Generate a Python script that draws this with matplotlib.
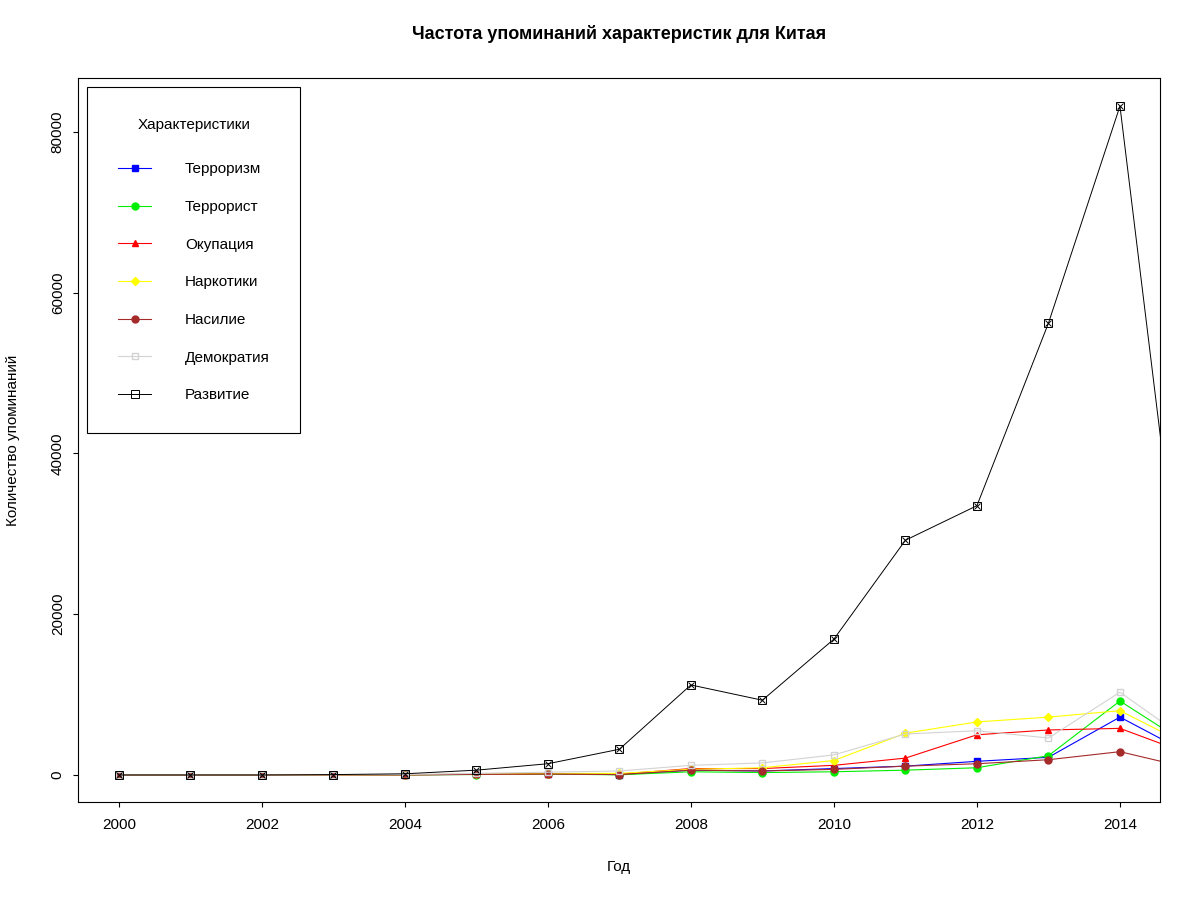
import matplotlib
matplotlib.use('Agg')
import matplotlib.pyplot as plt

plt.rcParams['font.family'] = ['Liberation Sans', 'DejaVu Sans']

years = list(range(2000, 2016))
terrorizm = [0, 0, 0, 10, 30, 80, 150, 50, 600, 500, 800, 1100, 1700, 2200, 7200, 2500]
terrorist = [0, 0, 0, 10, 20, 60, 120, 20, 400, 300, 400, 600, 900, 2400, 9200, 3500]
okupaciya = [0, 0, 0, 10, 30, 90, 160, 100, 800, 800, 1200, 2100, 5000, 5600, 5800, 2500]
narkotiki = [0, 0, 0, 10, 30, 100, 180, 200, 700, 900, 1800, 5200, 6600, 7200, 8000, 3500]
nasilie = [0, 0, 0, 10, 20, 70, 130, 50, 600, 500, 700, 1100, 1400, 1900, 2900, 800]
demokratiya = [0, 0, 0, 20, 60, 200, 350, 500, 1200, 1500, 2500, 5100, 5500, 4600, 10300, 4000]
razvitie = [0, 0, 0, 50, 150, 600, 1400, 3200, 11200, 9300, 16900, 29200, 33500, 56200, 83200, 10500]

fig = plt.figure(figsize=(12, 9), dpi=100)
ax = fig.add_axes([78/1200, 1-802/900, (1160-78)/1200, (802-78)/900])

kw = dict(lw=0.8, ms=5)
ax.plot(years, terrorizm, color='blue', marker='s', label='Терроризм', **kw)
ax.plot(years, terrorist, color='#00ee00', marker='o', label='Террорист', **kw)
ax.plot(years, okupaciya, color='red', marker='^', label='Окупация', **kw)
ax.plot(years, narkotiki, color='yellow', marker='D', ms=4, lw=0.8, label='Наркотики')
ax.plot(years, nasilie, color='brown', marker='o', label='Насилие', **kw)
ax.plot(years, demokratiya, color='lightgray', marker='s', mfc='none', label='Демократия', **kw)
ax.plot(years, razvitie, color='black', marker='s', mfc='none', ms=6, lw=0.7, mew=0.7, label='Развитие')
ax.plot(years, razvitie, color='black', marker='x', ms=4.5, lw=0, mew=0.7)

ax.set_xlim(1999.43, 2014.56)
ax.set_ylim(-3360, 86700)
ax.set_xticks(range(2000, 2015, 2))
ax.set_yticks([0, 20000, 40000, 60000, 80000])
ax.tick_params(axis='y', labelrotation=90, labelsize=11, pad=6)
ax.tick_params(axis='x', labelsize=11, pad=8)
for t in ax.get_yticklabels():
    t.set_va('center')
ax.set_xlabel('Год', fontsize=11, labelpad=20)
ax.set_ylabel('Количество упоминаний', fontsize=11, labelpad=22)
ax.set_title('Частота упоминаний характеристик для Китая', fontsize=13, fontweight='bold', pad=28)

leg = ax.legend(loc='upper left', title='Характеристики', fontsize=11, title_fontsize=11,
                fancybox=False, edgecolor='black', framealpha=1, labelspacing=1.55,
                borderpad=2.0, handlelength=2.2, handletextpad=2.2, borderaxespad=0.6)
leg.get_frame().set_linewidth(0.8)
leg._legend_box.sep = 22

fig.savefig('out.png', dpi=100)
